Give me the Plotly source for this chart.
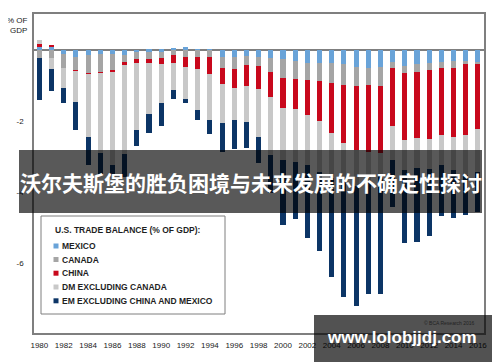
import plotly.graph_objects as go

years = list(range(1980, 2017))

mexico = [0.09, 0.10, -0.11, -0.21, -0.14, -0.11, -0.11, -0.14, -0.07, -0.05,
          -0.05, 0.03, 0.08, 0.02, 0.01, -0.21, -0.21, -0.17, -0.19, -0.24,
          -0.26, -0.30, -0.36, -0.36, -0.38, -0.39, -0.47, -0.52, -0.47, -0.35,
          -0.44, -0.40, -0.38, -0.33, -0.31, -0.31, -0.34]
canada = [-0.23, -0.23, -0.39, -0.36, -0.52, -0.52, -0.45, -0.20, -0.20, -0.20,
          -0.18, -0.14, -0.19, -0.19, -0.21, -0.29, -0.34, -0.25, -0.26, -0.37,
          -0.52, -0.52, -0.49, -0.51, -0.56, -0.61, -0.56, -0.47, -0.54, -0.17,
          -0.21, -0.21, -0.19, -0.19, -0.21, -0.09, -0.06]
china = [0.08, 0.05, 0.0, -0.02, -0.01, -0.01, -0.075, -0.08, -0.09, -0.13,
         -0.18, -0.22, -0.28, -0.36, -0.46, -0.46, -0.51, -0.61, -0.66, -0.72,
         -0.86, -0.85, -0.99, -1.13, -1.41, -1.62, -1.80, -1.88, -1.89, -1.62,
         -1.90, -1.87, -1.95, -1.88, -1.93, -2.00, -1.83]
dm_ex_canada = [0.11, -0.31, -0.58, -0.89, -1.78, -2.27, -2.60, -2.50, -1.90, -1.43,
                -1.09, -0.77, -0.92, -1.15, -1.30, -1.09, -0.92, -0.99, -1.33, -1.63,
                -1.46, -1.48, -1.41, -1.45, -1.26, -1.09, -1.01, -0.85, -0.62, -0.96,
                -0.83, -0.85, -0.82, -0.85, -0.94, -1.11, -1.20]
em_ex_china_mexico = [-1.17, -0.63, -0.42, -0.78, -0.80, -0.62, -0.30, -0.65, -0.45, -0.54,
                      -0.64, -0.26, -0.11, -0.26, -0.39, -0.83, -0.80, -0.75, -0.74, -1.07,
                      -1.83, -1.62, -2.04, -2.20, -2.78, -3.25, -3.38, -3.14, -3.35, -1.31,
                      -2.05, -2.09, -1.90, -1.44, -1.33, -1.13, -1.12]

series_names = ["MEXICO", "CANADA", "CHINA", "DM EXCLUDING CANADA",
                "EM EXCLUDING CHINA AND MEXICO"]
series_values = [mexico, canada, china, dm_ex_canada, em_ex_china_mexico]
series_colors = ["#69A3D8", "#A5A5A5", "#C8081C", "#C8C8C8", "#0C3566"]

x_tick_years = list(range(1980, 2017, 2))
y_tick_vals = [-2, -4, -6]
y_tick_text = ["-2", "-4", "-6"]

legend_title = "U.S. TRADE BALANCE (% OF GDP):"
banner_text = "沃尔夫斯堡的胜负困境与未来发展的不确定性探讨"
watermark_text = "www.lolobjjdj.com"
source_text = "© BCA Research 2016"

# the page adds an 8px body margin, so the figure is 492x354
OFF = 8
W, H = 492, 354
ML, MT = 26, 6
PW, PH = 450, 319
MR = W - ML - PW
MB = H - MT - PH


def px(xp):  # page pixel -> paper x
    return (xp - OFF - ML) / PW


def py(yp):  # page pixel -> paper y
    return (MT + PH - (yp - OFF)) / PH


fig = go.Figure()
for name, vals, col in zip(series_names, series_values, series_colors):
    fig.add_trace(go.Bar(x=years, y=vals, name=name, marker_color=col,
                         marker_line_width=0, width=0.42, showlegend=False))

sans = "Liberation Sans, Arial, sans-serif"

fig.update_layout(
    width=W, height=H,
    margin=dict(l=ML, r=MR, t=MT, b=MB, pad=0),
    barmode="relative",
    bargap=0,
    plot_bgcolor="white", paper_bgcolor="white",
    xaxis=dict(range=[1979.56, 2016.5], tickvals=x_tick_years,
               ticktext=[str(v) for v in x_tick_years], automargin=False,
               showgrid=False, showline=True, linecolor="#7F7F7F", linewidth=1.5,
               mirror=True, ticks="", ticklabelstandoff=4,
               tickfont=dict(family=sans, size=8, color="#1A1A1A")),
    yaxis=dict(range=[-7.97, 1.01], tickvals=y_tick_vals, ticktext=y_tick_text,
               automargin=False,
               showgrid=False, showline=True, linecolor="#7F7F7F", linewidth=1.5,
               mirror=True, ticks="", zeroline=True, zerolinecolor="#7F7F7F",
               zerolinewidth=1.5, ticklabelstandoff=7,
               tickfont=dict(family=sans, size=8, color="#1A1A1A")),
    font=dict(family=sans),
)

fig.add_annotation(text="% OF<br>GDP", xref="paper", yref="paper", x=0, y=1,
                   xanchor="right", yanchor="top", xshift=-4, showarrow=False,
                   align="right", font=dict(family=sans, size=8, color="#1A1A1A"))

shapes = []
# legend box
shapes.append(dict(type="rect", xref="paper", yref="paper",
                   x0=px(41), x1=px(225), y0=py(314), y1=py(216),
                   fillcolor="white", line=dict(color="#7F7F7F", width=1),
                   layer="above"))
fig.add_annotation(text="<b>" + legend_title + "</b>", xref="paper", yref="paper",
                   x=px(52.5), y=py(230), xanchor="left", yanchor="middle",
                   showarrow=False, font=dict(family=sans, size=8.5, color="#1F1F1F"))
item_y = [246, 259.5, 273.2, 287, 300.8]
for name, col, yy in zip(series_names, series_colors, item_y):
    shapes.append(dict(type="rect", xref="paper", yref="paper",
                       x0=px(53.5), x1=px(58.5), y0=py(yy + 2.5), y1=py(yy - 2.5),
                       fillcolor=col, line=dict(width=0), layer="above"))
    fig.add_annotation(text="<b>" + name + "</b>", xref="paper", yref="paper",
                       x=px(59.5), y=py(yy), xanchor="left", yanchor="middle",
                       showarrow=False, font=dict(family=sans, size=8.5, color="#1F1F1F"))

fig.add_annotation(text=source_text, xref="paper", yref="paper",
                   x=px(477), y=py(323), xanchor="right", yanchor="middle",
                   showarrow=False, font=dict(family=sans, size=5, color="#222222"))

# banner overlay
shapes.append(dict(type="rect", xref="paper", yref="paper",
                   x0=px(19), x1=px(482), y0=py(213), y1=py(150),
                   fillcolor="rgba(0,0,0,0.65)", line=dict(width=0), layer="above"))
fig.add_annotation(text="<b>" + banner_text + "</b>", xref="paper", yref="paper",
                   x=px(250.5), y=py(182), xanchor="center", yanchor="middle",
                   showarrow=False,
                   font=dict(family="Noto Sans CJK SC", size=21, color="white"))

# watermark overlay
shapes.append(dict(type="rect", xref="paper", yref="paper",
                   x0=px(314), x1=px(500), y0=py(362), y1=py(315),
                   fillcolor="rgba(0,0,0,0.68)", line=dict(width=0), layer="above"))
fig.add_annotation(text="<b>" + watermark_text + "</b>", xref="paper", yref="paper",
                   x=px(402), y=py(337), xanchor="center", yanchor="middle",
                   showarrow=False,
                   font=dict(family=sans, size=17, color="white"))

fig.update_layout(shapes=shapes)
fig.write_html("out.html")
